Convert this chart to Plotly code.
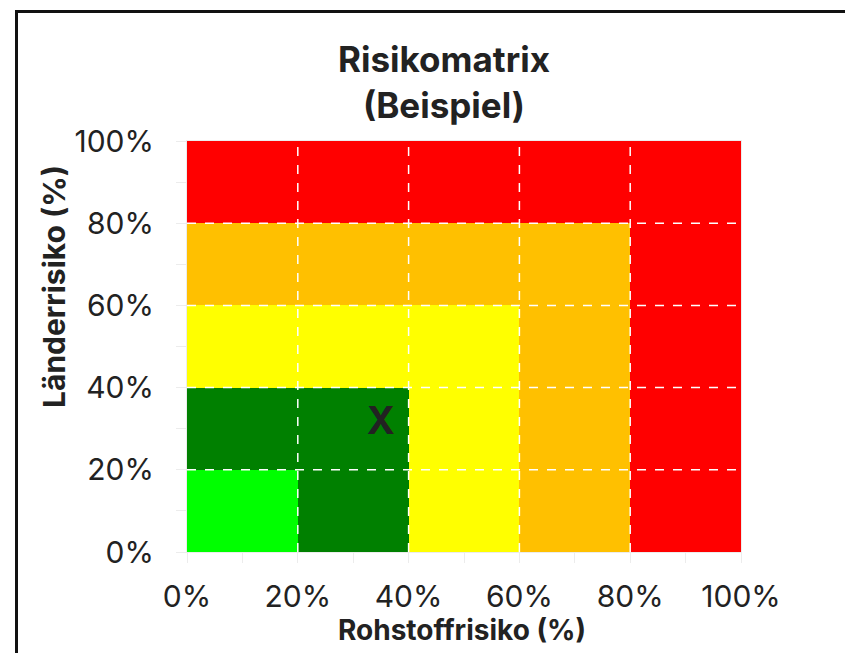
import plotly.graph_objects as go

# Data
x_centers = [10, 30, 50, 70, 90]
y_centers = [10, 30, 50, 70, 90]
# risk level per cell (rows: y bottom->top, cols: x left->right)
# 1 = sehr gering, 2 = gering, 3 = mittel, 4 = hoch, 5 = sehr hoch
risk_levels = [
    [1, 2, 3, 4, 5],
    [2, 2, 3, 4, 5],
    [3, 3, 3, 4, 5],
    [4, 4, 4, 4, 5],
    [5, 5, 5, 5, 5],
]
level_colors = ["#00FF00", "#008000", "#FFFF00", "#FFC000", "#FF0000"]
marker_x = [35]
marker_y = [31]
marker_label = ["X"]
tick_vals = [0, 20, 40, 60, 80, 100]
tick_text = ["0%", "20%", "40%", "60%", "80%", "100%"]
grid_vals = [20, 40, 60, 80]

# discrete colorscale
cs = []
n = len(level_colors)
for i, c in enumerate(level_colors):
    cs.append([i / n, c])
    cs.append([(i + 1) / n, c])

FONT = "Inter"
TXT = "#222222"

fig = go.Figure()
fig.add_trace(go.Heatmap(
    x=x_centers, y=y_centers, z=risk_levels,
    zmin=0.5, zmax=5.5, colorscale=cs, showscale=False,
    hoverinfo="skip",
))
fig.add_trace(go.Scatter(
    x=marker_x, y=marker_y, mode="text", text=marker_label,
    textfont=dict(family=FONT, size=38, color=TXT, weight="bold"),
    showlegend=False, hoverinfo="skip",
))

# dashed white grid above the heatmap
for v in grid_vals:
    fig.add_shape(type="line", xref="x", yref="y", x0=v, x1=v, y0=0, y1=100,
                  line=dict(color="white", width=1.5, dash="dash"), layer="above")
    fig.add_shape(type="line", xref="x", yref="y", x0=0, x1=100, y0=v, y1=v,
                  line=dict(color="white", width=1.5, dash="dash"), layer="above")

# plot area in figure pixel coordinates
L, R, T, B = 179, 733, 133, 544
W, H = R - L, B - T
def px_x(p):
    return (p - L) / W
def px_y(p):
    return (B - p) / H

# outer frame
fig.add_shape(type="rect", xref="paper", yref="paper",
              x0=px_x(8.5), x1=px_x(900), y0=px_y(720), y1=px_y(3.5),
              line=dict(color="#111111", width=3), fillcolor="rgba(0,0,0,0)")

axis_common = dict(
    range=[0, 100], tickvals=tick_vals, ticktext=tick_text,
    showgrid=False, zeroline=False,
    showline=True, linecolor="#ececec", linewidth=1, mirror=True,
    ticks="outside", ticklen=10, tickcolor="#ececec", tickwidth=1,
    minor=dict(dtick=10, ticks="outside", ticklen=10, tickcolor="#ececec", tickwidth=1),
    tickfont=dict(family=FONT, size=30, color=TXT),
    fixedrange=True,
)
fig.update_xaxes(**axis_common, ticklabelstandoff=8)
fig.update_yaxes(**axis_common, ticklabelstandoff=16)

fig.add_annotation(text="<b>Rohstoffrisiko (%)</b>", xref="paper", yref="paper",
                   x=px_x(454), y=px_y(622), showarrow=False,
                   xanchor="center", yanchor="middle", borderpad=0,
                   font=dict(family=FONT, size=28, color=TXT))
fig.add_annotation(text="<b>Länderrisiko (%)</b>", xref="paper", yref="paper",
                   x=px_x(46), y=px_y(279), textangle=-90, showarrow=False,
                   xanchor="center", yanchor="middle",
                   font=dict(family=FONT, size=30, color=TXT))

fig.update_layout(
    width=853, height=653,
    margin=dict(l=L, r=853 - R, t=T, b=653 - B),
    paper_bgcolor="white", plot_bgcolor="white",
    title=dict(text="<b>Risikomatrix<br>(Beispiel)</b>",
               font=dict(family=FONT, size=35, color=TXT),
               x=436 / 853, xanchor="center", y=1 - 64 / 653, yanchor="top"),
    showlegend=False,
)
fig.write_html("out.html")
